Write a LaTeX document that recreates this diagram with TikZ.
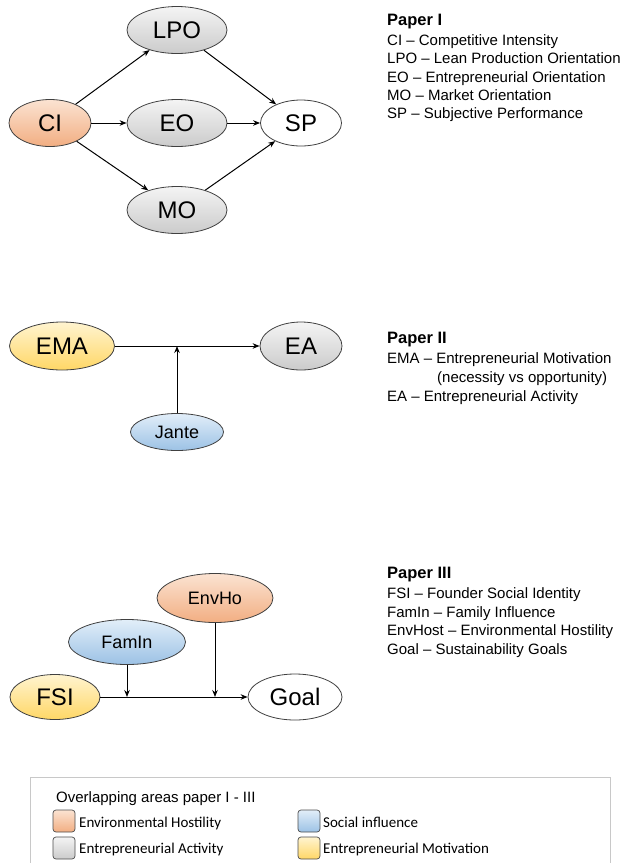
\documentclass[tikz,border=0pt]{standalone}
\usepackage{fontspec}
\setmainfont{Liberation Sans}
\newfontfamily\calibri{Carlito}
\usetikzlibrary{positioning,shapes.geometric,arrows.meta,calc}

\definecolor{orangetop}{HTML}{FBE3D2}
\definecolor{orangebot}{HTML}{F2AE82}
\definecolor{graytop}{HTML}{F4F4F4}
\definecolor{graybot}{HTML}{CBCBCB}
\definecolor{bluetop}{HTML}{E2EEF9}
\definecolor{bluebot}{HTML}{9CC2E5}
\definecolor{yellowtop}{HTML}{FFF4D0}
\definecolor{yellowbot}{HTML}{FFD766}
\definecolor{boxgray}{HTML}{C8C8C8}

\begin{document}
\begin{tikzpicture}[x=1pt,y=-1pt]
\tikzstyle{el}=[ellipse,draw=black!75,line width=0.8pt,inner sep=0pt];
\tikzstyle{envh}=[top color=orangetop,bottom color=orangebot];
\tikzstyle{entact}=[top color=graytop,bottom color=graybot];
\tikzstyle{socinf}=[top color=bluetop,bottom color=bluebot];
\tikzstyle{entmot}=[top color=yellowtop,bottom color=yellowbot];
\tikzstyle{big}=[font=\fontsize{24}{28}\selectfont];
\tikzstyle{small}=[font=\fontsize{18}{21}\selectfont];
\tikzstyle{ed}=[draw=black,line width=1pt,-{Stealth[length=7pt,width=5.5pt]}];
\tikzstyle{ttl}=[anchor=base west,inner sep=0pt,font=\fontsize{16.5}{19}\selectfont\bfseries];
\tikzstyle{txt}=[anchor=base west,inner sep=0pt,font=\fontsize{15}{18}\selectfont];
\tikzstyle{swatch}=[draw=black!70,line width=0.7pt,rounded corners=3pt,minimum size=22pt,inner sep=0pt];
\tikzstyle{legtxt}=[anchor=base west,inner sep=0pt,font=\calibri\fontsize{15}{18}\selectfont];
\useasboundingbox (0,0) rectangle (627,863);
% Paper I
\node [el,envh,big,minimum width=82pt,minimum height=47pt] (ci) at (50,123) {CI};
\node [el,entact,big,minimum width=100pt,minimum height=47pt] (lpo) at (177,30) {LPO};
\node [el,entact,big,minimum width=100pt,minimum height=47pt] (eo) at (177,123) {EO};
\node [el,entact,big,minimum width=100pt,minimum height=47pt] (mo) at (177,210) {MO};
\node [el,fill=white,big,minimum width=81pt,minimum height=46pt] (sp) at (301,123) {SP};
\draw [ed] (ci) -- (lpo);
\draw [ed] (ci) -- (eo);
\draw [ed] (ci) -- (mo);
\draw [ed] (lpo) -- (sp);
\draw [ed] (eo) -- (sp);
\draw [ed] (mo) -- (sp);
\node [ttl] (p1) at (387,25) {Paper I};
\node [txt] (p1a) at (387,45) {CI – Competitive Intensity};
\node [txt] (p1b) at (387,63.5) {LPO – Lean Production Orientation};
\node [txt] (p1c) at (387,82) {EO – Entrepreneurial Orientation};
\node [txt] (p1d) at (387,100) {MO – Market Orientation};
\node [txt] (p1e) at (387,118) {SP – Subjective Performance};
% Paper II
\node [el,entmot,big,minimum width=105pt,minimum height=48pt] (ema) at (62,346) {EMA};
\node [el,entact,big,minimum width=82pt,minimum height=48pt] (ea) at (301,346) {EA};
\node [el,socinf,small,minimum width=93pt,minimum height=37pt] (jante) at (177,432) {Jante};
\coordinate (jmod) at (jante.north |- ema);
\draw [ed] (ema) -- (ea);
\draw [ed] (jante) -- (jmod);
\node [ttl] (p2) at (387,343) {Paper II};
\node [txt] (p2a) at (387,363) {EMA – Entrepreneurial Motivation};
\node [txt] (p2b) at (437,382) {(necessity vs opportunity)};
\node [txt] (p2c) at (387,401) {EA – Entrepreneurial Activity};
% Paper III
\node [el,envh,small,minimum width=116pt,minimum height=49pt] (envho) at (215,598) {EnvHo};
\node [el,socinf,small,minimum width=117pt,minimum height=45pt] (famin) at (127,642) {FamIn};
\node [el,entmot,big,minimum width=90pt,minimum height=45pt] (fsi) at (55,697) {FSI};
\node [el,fill=white,big,minimum width=94pt,minimum height=46pt] (goal) at (295,697) {Goal};
\coordinate (fmod) at (famin.south |- fsi);
\coordinate (emod) at (envho.south |- fsi);
\draw [ed] (fsi) -- (goal);
\draw [ed] (famin) -- (fmod);
\draw [ed] (envho) -- (emod);
\node [ttl] (p3) at (387,578) {Paper III};
\node [txt] (p3a) at (387,598) {FSI – Founder Social Identity};
\node [txt] (p3b) at (387,617) {FamIn – Family Influence};
\node [txt] (p3c) at (387,635) {EnvHost – Environmental Hostility};
\node [txt] (p3d) at (387,654) {Goal – Sustainability Goals};
% legend
\draw [boxgray,line width=0.8pt] (30,870) -- (30,777) -- (610,777) -- (610,870);
\node [txt] (lgt) at (56,802) {Overlapping areas paper I - III};
\node [swatch,envh] (s1) at (64,821) {};
\node [swatch,entact] (s2) at (64,848) {};
\node [swatch,socinf] (s3) at (309,821) {};
\node [swatch,entmot] (s4) at (309,848) {};
\node [legtxt] (l1) at (79,827) {Environmental Hostility};
\node [legtxt] (l2) at (79,853) {Entrepreneurial Activity};
\node [legtxt] (l3) at (323,827) {Social influence};
\node [legtxt] (l4) at (323,853) {Entrepreneurial Motivation};
\end{tikzpicture}
\end{document}
